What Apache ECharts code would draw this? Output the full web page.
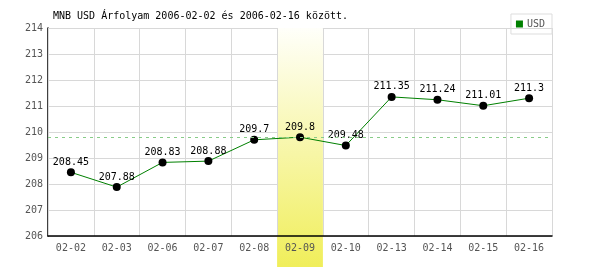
<!DOCTYPE html>
<html>
<head>
<meta charset="utf-8">
<script src="https://cdn.jsdelivr.net/npm/echarts@6/dist/echarts.min.js"></script>
<style>html,body{margin:0;padding:0;background:#fff;}#c{width:600px;height:270px;}</style>
</head>
<body>
<div id="c"></div>
<script>
const titleText = 'MNB USD Árfolyam 2006-02-02 és 2006-02-16 között.';
const categories = ['02-02','02-03','02-06','02-07','02-08','02-09','02-10','02-13','02-14','02-15','02-16'];
const usdValues = [208.45, 207.88, 208.83, 208.88, 209.7, 209.8, 209.48, 211.35, 211.24, 211.01, 211.3];
const highlightIndex = [5];
const yMin = 206, yMax = 214, yInterval = 1;
const FONT = 'DejaVu Sans Mono';

const chart = echarts.init(document.getElementById('c'), null, {renderer: 'canvas'});
chart.setOption({
  animation: false,
  backgroundColor: '#fff',
  title: {
    text: titleText, left: 48, top: 6,
    textStyle: {fontFamily: FONT, fontSize: 10, fontWeight: 'normal', color: '#000'}
  },
  legend: {
    data: [{name: 'USD', itemStyle: {color: '#008000'}}],
    right: 48, top: 14, orient: 'vertical',
    padding: [5, 7, 5, 5], borderColor: '#ddd', borderWidth: 1,
    icon: 'rect', itemWidth: 7, itemHeight: 7, itemGap: 4,
    textStyle: {fontFamily: FONT, fontSize: 10, color: '#555', padding: [0, 0, 0, -1]}
  },
  grid: {left: 48, right: 48, top: 28, bottom: 34, containLabel: false},
  xAxis: {
    type: 'category', data: categories, boundaryGap: true, z: 3,
    axisLine: {lineStyle: {color: '#000', width: 1.5}},
    axisTick: {show: false},
    axisLabel: {fontFamily: FONT, fontSize: 10, color: '#555', margin: 7},
    splitLine: {show: true, lineStyle: {color: '#d8d8d8', width: 1}}
  },
  yAxis: {
    type: 'value', min: yMin, max: yMax, interval: yInterval, z: 0,
    axisLine: {show: true, lineStyle: {color: '#000', width: 1.5}},
    axisTick: {show: false},
    axisLabel: {fontFamily: FONT, fontSize: 10, color: '#555', margin: 5},
    splitLine: {show: true, lineStyle: {color: '#d8d8d8', width: 1}}
  },
  series: [
    {
      type: 'custom', name: 'band', z: 1, clip: false, silent: true,
      data: highlightIndex.map(i => [i]),
      renderItem: function (params, api) {
        const idx = api.value(0);
        const top = api.coord([idx, yMax]);
        const bot = api.coord([idx, yMin]);
        const w = api.size([1, 0])[0];
        return {
          type: 'rect',
          shape: {x: top[0] - w / 2, y: top[1], width: w, height: bot[1] - top[1] + 31},
          style: {
            fill: new echarts.graphic.LinearGradient(0, 0, 0, 1, [
              {offset: 0, color: '#fffffa'},
              {offset: 1, color: '#f0ee5a'}
            ])
          }
        };
      }
    },
    {
      type: 'line', name: 'USD', z: 4, data: usdValues,
      symbol: 'circle', symbolSize: 8,
      lineStyle: {color: '#008000', width: 1},
      itemStyle: {color: '#000'},
      label: {show: true, position: 'top', distance: 1, fontFamily: FONT, fontSize: 10, color: '#000'},
      markLine: {
        silent: true, symbol: 'none',
        data: [{type: 'average'}],
        lineStyle: {color: '#88cc88', type: [3, 4], width: 1},
        label: {show: false}
      }
    }
  ]
});
</script>
</body>
</html>
